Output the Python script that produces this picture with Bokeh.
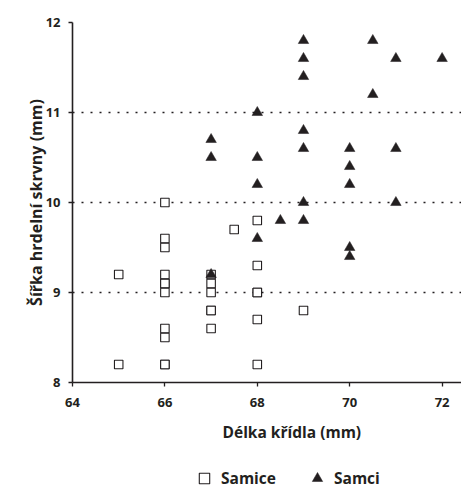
from bokeh.plotting import figure
from bokeh.layouts import column
from bokeh.models import Range1d, FixedTicker, Legend, LegendItem, Title
from bokeh.embed import file_html
from bokeh.resources import INLINE

# Data (wing length vs throat patch width)
female_x = [65, 65,
            66, 66, 66, 66, 66, 66, 66, 66, 66, 66, 66,
            67, 67, 67, 67, 67, 67,
            67.5,
            68, 68, 68, 68, 68, 68,
            69]
female_y = [9.2, 8.2,
            10.0, 9.6, 9.5, 9.2, 9.1, 9.1, 9.0, 8.6, 8.5, 8.2, 8.2,
            9.2, 9.1, 9.0, 8.8, 8.8, 8.6,
            9.7,
            9.8, 9.3, 9.0, 9.0, 8.7, 8.2,
            8.8]
male_x = [67, 67, 67,
          68, 68, 68, 68,
          68.5,
          69, 69, 69, 69, 69, 69, 69,
          70, 70, 70, 70, 70,
          70.5, 70.5,
          71, 71, 71,
          72]
male_y = [10.7, 10.5, 9.2,
          11.0, 10.5, 10.2, 9.6,
          9.8,
          11.8, 11.6, 11.4, 10.8, 10.6, 10.0, 9.8,
          10.6, 10.4, 10.2, 9.5, 9.4,
          11.8, 11.2,
          11.6, 10.6, 10.0,
          11.6]
x_ticks = [64, 66, 68, 70, 72]
y_ticks = [8, 9, 10, 11, 12]
series_labels = ["Samice", "Samci"]
x_title = "Délka křídla (mm)"
y_title = "Šířka hrdelní skrvny (mm)"

INK = "#231f20"
FONT = "Open Sans"

p = figure(width=461, height=458, output_backend="svg", toolbar_location=None,
           x_range=Range1d(64, 72.42), y_range=Range1d(8, 12),
           min_border_left=72, min_border_top=22, min_border_right=0,
           min_border_bottom=76)
p.outline_line_color = None
p.background_fill_color = "white"
p.border_fill_color = "white"

p.xgrid.grid_line_color = None
p.ygrid.ticker = FixedTicker(ticks=y_ticks[1:])
p.ygrid.grid_line_color = INK
p.ygrid.grid_line_width = 1.4
p.ygrid.grid_line_dash = "2 7"

for ax in (p.xaxis[0], p.yaxis[0]):
    ax.axis_line_color = INK
    ax.axis_line_width = 1.6
    ax.major_tick_line_color = INK
    ax.major_tick_line_width = 1.3
    ax.major_tick_out = 4
    ax.major_tick_in = 0
    ax.minor_tick_line_color = None
    ax.major_label_text_font = FONT
    ax.major_label_text_font_style = "bold"
    ax.major_label_text_font_size = "13px"
    ax.major_label_text_color = INK
    ax.axis_label_text_font = FONT
    ax.axis_label_text_font_style = "bold"
    ax.axis_label_text_font_size = "16px"
    ax.axis_label_text_color = INK

p.xaxis.ticker = FixedTicker(ticks=x_ticks)
p.yaxis.ticker = FixedTicker(ticks=y_ticks)
p.yaxis.axis_label = y_title
p.xaxis.major_label_standoff = 11
p.yaxis.major_label_standoff = 8
p.yaxis.axis_label_standoff = -4

# x-axis title, offset to the right as in the original
xt = Title(text=x_title, align="left", offset=150, standoff=19,
           text_font=FONT, text_font_style="bold", text_font_size="15.5px",
           text_color=INK)
p.add_layout(xt, "below")

sq_style = dict(marker="square", fill_color="white", line_color=INK, line_width=1.1)
tr_style = dict(marker="triangle", fill_color=INK, line_color=INK, line_width=0.5)
p.scatter(female_x, female_y, size=8.5, **sq_style)
p.scatter(male_x, male_y, size=10.5, **tr_style)

# legend strip below the chart (its ranges keep the proxy marks out of view)
q = figure(width=461, height=33, output_backend="svg", toolbar_location=None,
           x_range=Range1d(0, 1), y_range=Range1d(0, 1),
           x_axis_location=None, y_axis_location=None,
           min_border=0, min_border_left=0, min_border_right=0,
           min_border_top=0, min_border_bottom=0)
q.outline_line_color = None
q.grid.visible = False
q.background_fill_color = "white"
q.border_fill_color = "white"
lsq = q.scatter(female_x, female_y, size=8.5, **sq_style)
ltr = q.scatter(male_x, male_y, size=10.5, **tr_style)
legend = Legend(items=[LegendItem(label=series_labels[0], renderers=[lsq]),
                       LegendItem(label=series_labels[1], renderers=[ltr])],
                orientation="horizontal", location=(119, 0),
                border_line_color=None, background_fill_alpha=0,
                padding=0, margin=0, spacing=28,
                glyph_width=26, glyph_height=26, label_standoff=4,
                label_text_font=FONT, label_text_font_style="bold",
                label_text_font_size="15.5px", label_text_color=INK)
q.add_layout(legend, "center")

layout = column(p, q, spacing=0)
open("out.html", "w").write(file_html(layout, INLINE))
